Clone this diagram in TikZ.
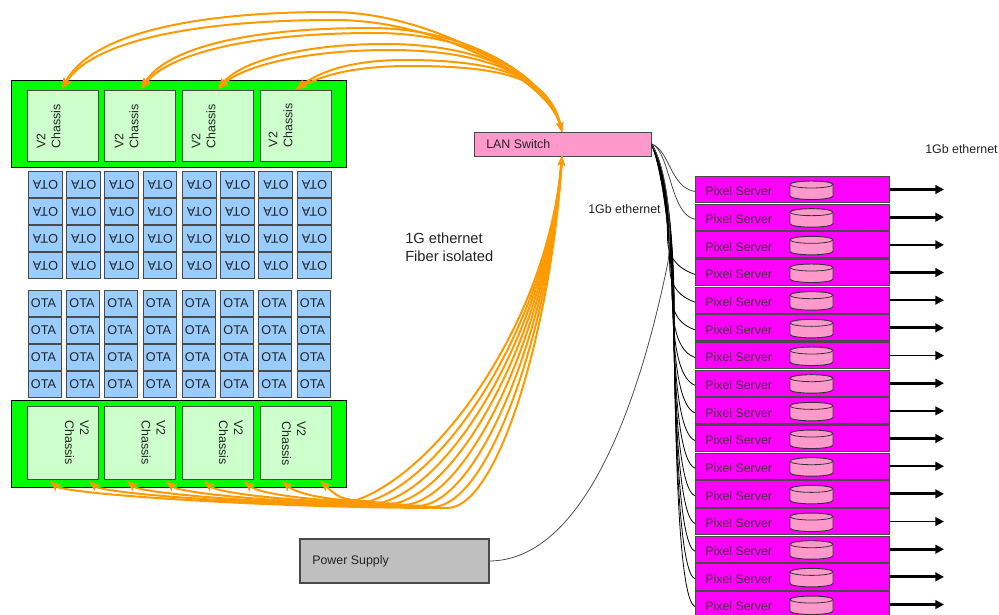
\documentclass[tikz,border=0pt]{standalone}
\usepackage{fontspec}
\setmainfont{Liberation Sans}
\usetikzlibrary{arrows.meta,calc}
\definecolor{orangec}{HTML}{FF9900}
\definecolor{edgec}{HTML}{4A4A4A}
\definecolor{txtc}{HTML}{222222}
\definecolor{chc}{HTML}{CCFFCC}
\definecolor{otac}{HTML}{99CCFF}
\definecolor{srv}{HTML}{FF00FF}
\definecolor{pinkc}{HTML}{FF99CC}
\tikzset{
  px/.style={x=0.75pt,y=-0.75pt},
  rackbox/.style={draw=black,line width=0.75pt,fill=green},
  chassis/.style={draw=edgec,line width=0.75pt,fill=chc},
  otacell/.style={draw=edgec,line width=0.7pt,fill=otac},
  lbl/.style={font=\fontsize{9.3}{11.25}\selectfont,text=txtc,inner sep=0pt},
  otalbl/.style={font=\fontsize{9.5}{11}\selectfont,text=txtc,inner sep=0pt},
  fibre/.style={draw=orangec,line width=1.5pt,{Stealth[length=8pt,width=6pt,inset=1.5pt]}-{Stealth[length=7pt,width=5pt,inset=1.5pt]}},
  lanlink/.style={draw=black,line width=0.6pt},
}
\begin{document}
\begin{tikzpicture}[px]
\useasboundingbox (0,0) rectangle (999,614);
\path[rackbox] (11.5,80.5) rectangle (346.5,167);
\path[rackbox] (11.5,400.5) rectangle (346.5,487);
\foreach \n/\a/\b in {1/27/98,2/104.5/175.5,3/182.5/253.5,4/260/331}{
  \path[chassis] (\a,90) rectangle (\b,161.5);
  \path[chassis] (\a,406) rectangle (\b,479);
}
\node[lbl,rotate=90,align=left,anchor=west] (tl1) at (48.5,149) {V2\\Chassis};
\node[lbl,rotate=90,align=left,anchor=west] (tl2) at (126.5,149) {V2\\Chassis};
\node[lbl,rotate=90,align=left,anchor=west] (tl3) at (203.5,149) {V2\\Chassis};
\node[lbl,rotate=90,align=left,anchor=west] (tl4) at (280.5,147.5) {V2\\Chassis};
\node[lbl,rotate=-90,align=left,anchor=west] (bl1) at (77,420) {V2\\Chassis};
\node[lbl,rotate=-90,align=left,anchor=west] (bl2) at (153.5,420) {V2\\Chassis};
\node[lbl,rotate=-90,align=left,anchor=west] (bl3) at (231,420) {V2\\Chassis};
\node[lbl,rotate=-90,align=left,anchor=west] (bl4) at (294,421) {V2\\Chassis};
% OTA cells
\foreach \c/\a/\b in {1/28/62,2/66.5/100,3/104.5/138,4/143/176.5,5/182/216,6/220.5/254,7/258.5/292.5,8/297/331}{
  \foreach \r/\t in {1/171,2/198,3/225,4/252}{
    \path[otacell] (\a,\t) rectangle (\b,\t+26.5);
    \node[otalbl,rotate=180] (at\c\r) at ({(\a+\b)/2+0.5},\t+13.5) {OTA};
  }
}
\foreach \c/\a/\b in {1/28/61,2/66.5/99.5,3/104.5/137.5,4/143/176,5/182/215,6/220.5/253.5,7/258.5/291.5,8/297/330}{
  \foreach \r/\t in {1/290,2/317,3/344,4/371}{
    \path[otacell] (\a,\t) rectangle (\b,\t+26.5);
    \node[otalbl] (ot\c\r) at ({(\a+\b)/2-1},\t+13) {OTA};
  }
}
% LAN switch, power supply
\node[draw=edgec,line width=0.75pt,fill=pinkc,minimum width=132.75pt,minimum height=18pt,inner sep=0pt] (lan) at (562.5,144) {};
\node[lbl,anchor=west] (lant) at (486,144) {LAN Switch};
\node[draw=edgec,line width=0.85pt,fill=gray!50!white,minimum width=141.75pt,minimum height=33pt,inner sep=0pt] (ps) at (394.5,561) {};
\node[lbl,anchor=west] (pst) at (312,561) {Power Supply};
\coordinate (lanE) at (lan.east);
% links from switch to servers
\foreach \i in {0,1}{
  \pgfmathsetmacro{\ey}{176+27.67*\i+15.5}
  \coordinate (srvin\i) at (695,\ey);
  \draw[draw=black!70,line width=0.6pt] (lanE) .. controls (670,150) and (670,\ey-4) .. (srvin\i);
}
\foreach \i in {3,...,15}{
  \pgfmathsetmacro{\ey}{176+27.67*\i+15.5}
  \pgfmathsetmacro{\spy}{min(300,\ey-35)}
  \pgfmathsetmacro{\off}{(\i-9)*0.33}
  \pgfmathsetmacro{\spx}{673-(300-\spy)*0.07+\off*0.6}
  \pgfmathsetmacro{\cax}{664+\off*1.8}
  \pgfmathsetmacro{\cc}{\spy+0.6*(\ey-\spy)}
  \coordinate (srvin\i) at (695,\ey);
  \draw[lanlink] (lanE) .. controls (\cax,168) and (\spx-1,\spy-60) .. (\spx,\spy)
     .. controls (\spx+0.5,\cc) and (681,\ey-5) .. (srvin\i);
}
\draw[draw=black!70,line width=0.6pt] (ps.east) .. controls (585,560) and (640,400) .. (668,262) .. controls (672,230) and (668,170) .. (lanE);
% servers
\foreach \i/\w in {0/2.2,1/2.2,2/1.4,3/2.2,4/1.4,5/2.2,6/1.4,7/2.2,8/1.4,9/2.2,10/1.4,11/2.2,12/1.4,13/2.2,14/2.2,15/2.2}{
  \pgfmathsetmacro{\ty}{176+27.67*\i}
  \node[draw=edgec,line width=0.8pt,fill=srv,anchor=north west,minimum width=145.5pt,minimum height=19.6pt,inner sep=0pt] (s\i) at (695,\ty) {};
  \node[lbl,anchor=west,text=black!85!magenta] (st\i) at (705,\ty+15.5) {Pixel Server};
  \draw[draw=black!80,line width=0.7pt,fill=pinkc] (790,\ty+8.5) arc[start angle=180,end angle=360,x radius=21.5,y radius=3.5]
     -- (833,\ty+20) arc[start angle=0,end angle=180,x radius=21.5,y radius=3.5] -- cycle;
  \draw[draw=black!80,line width=0.6pt] (790,\ty+8.5) arc[start angle=180,end angle=0,x radius=21.5,y radius=3.5];
  \coordinate (out\i) at (944,\ty+13.5);
  \draw[line width=\w pt,-{Triangle[length=6.5pt,width=6.5pt]}] (s\i.east|-out\i) -- (out\i);
}
% fibre, top
\coordinate (lanT) at (562,132);
\coordinate (lanB) at (562,156);
\coordinate (t1) at (62,89);\coordinate (t2) at (141,89);\coordinate (t3) at (218,89);\coordinate (t4) at (296,89);
\foreach \s/\cax/\cay/\cbx/\cby/\px/\py in {
  t1/90/35/190/12/330/12, t1/92/41/195/20/335/20,
  t2/165/50/240/28/370/28, t2/168/55/245/33/375/33,
  t3/240/62/300/44/385/44, t3/243/66/305/50/390/50,
  t4/320/72/350/60/405/60, t4/322/76/352/66/410/66}{
  \draw[fibre] (\s) .. controls (\cax,\cay) and (\cbx,\cby) .. (\px,\py) .. controls ({\px+105},\py) and (550,82) .. (lanT);
}
% fibre, bottom
\foreach \i/\x in {1/50,2/89,3/127,4/166,5/204,6/244,7/282,8/320}{
  \pgfmathsetmacro{\f}{(8-\i)/7}
  \pgfmathsetmacro{\bx}{357+90*\f}
  \pgfmathsetmacro{\by}{500+8*\f}
  \pgfmathsetmacro{\cx}{440+60*\f}
  \pgfmathsetmacro{\cy}{470+38*\f}
  \pgfmathsetmacro{\dx}{548+4*\f}
  \pgfmathsetmacro{\ex}{\x+0.55*(\bx-\x)}
  \coordinate (b\i) at (\x,481);
  \draw[fibre] (b\i) .. controls ({\x+15},494) and (\ex,\by) .. (\bx,\by) .. controls (\cx,\cy) and (\dx,320) .. (lanB);
}
% labels
\node[lbl,anchor=west] (l1) at (588,209) {1Gb ethernet};
\node[lbl,anchor=west] (l2) at (925,149.5) {1Gb ethernet};
\node[font=\fontsize{11}{13.5}\selectfont,text=txtc,inner sep=0pt,anchor=west,align=left] (l3) at (405,247) {1G ethernet\\Fiber isolated};
\end{tikzpicture}
\end{document}
